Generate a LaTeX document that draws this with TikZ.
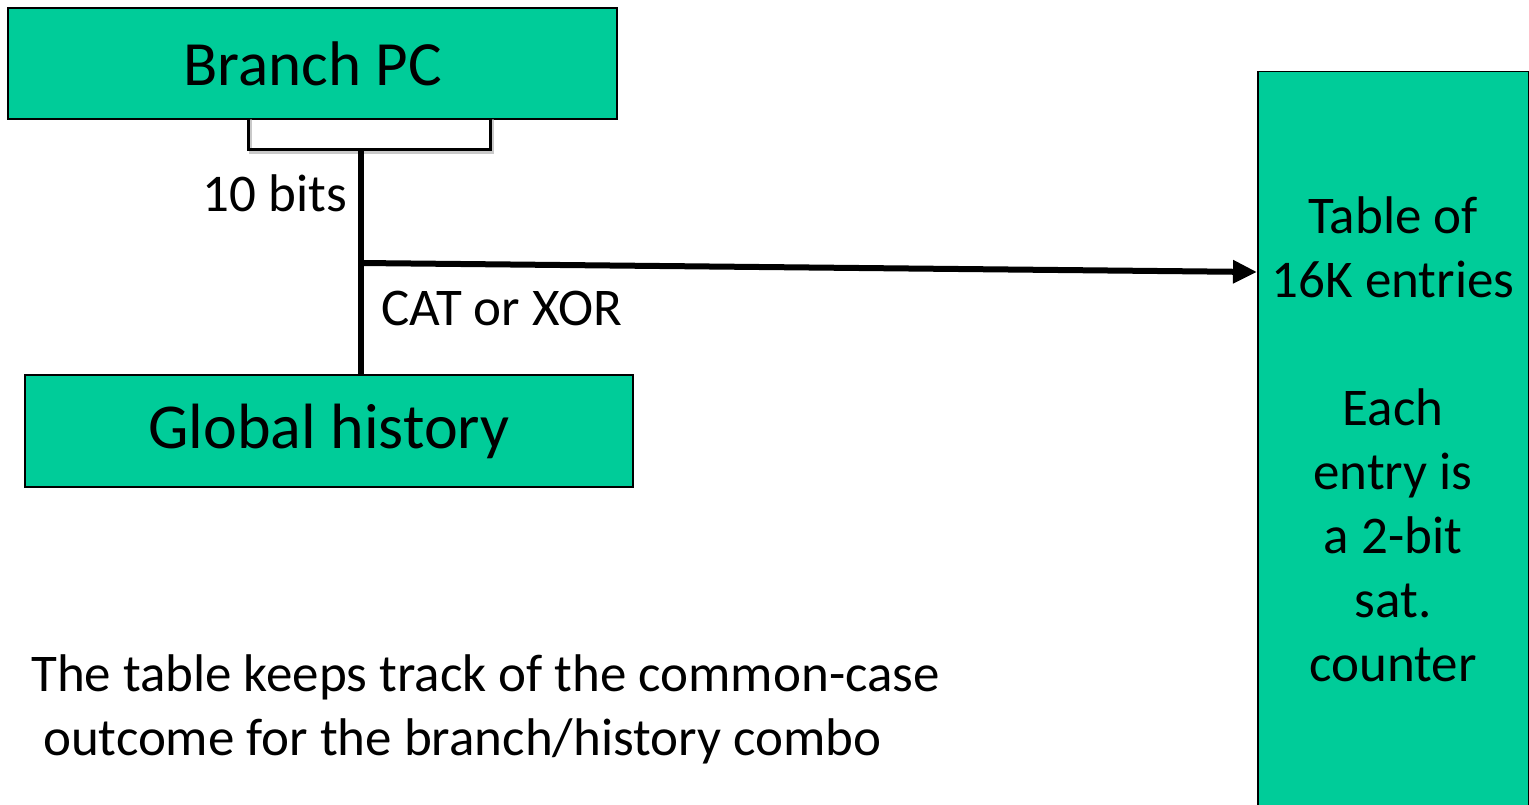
\documentclass[tikz,border=0pt]{standalone}
\usepackage{fontspec}
\setmainfont{Carlito}
\usetikzlibrary{arrows.meta}
\definecolor{boxgreen}{RGB}{0,204,153}
\tikzset{
  greenbox/.style={draw=black, line width=1.5pt, fill=boxgreen, inner sep=0pt},
  wire/.style={line width=6pt},
  lbl/.style={inner sep=0pt, font=\fontsize{53}{64}\selectfont},
}
\begin{document}
\begin{tikzpicture}[x=1pt,y=-1pt]
\useasboundingbox (0,0) rectangle (1529,805);
\fill[white] (0,0) rectangle (1529,805);
% boxes
\node[greenbox, minimum width=609pt, minimum height=111pt, font=\fontsize{63}{70}\selectfont] (pc) at (312.5,63.5) {Branch PC};
\node[greenbox, minimum width=608pt, minimum height=112pt, font=\fontsize{64}{70}\selectfont] (gh) at (329,431) {\raisebox{-5pt}{Global history}};
\begin{scope}
\clip (0,0) rectangle (1529,805);
\node[greenbox, minimum width=271pt, minimum height=760pt, anchor=north west] (tab) at (1257,71) {};
\end{scope}
% table text
\node[lbl, align=center, anchor=base] (tabtext) at (1393,681)
  {Table of\\16K entries\\[64pt]Each\\entry is\\a 2-bit\\sat.\\counter};
% bracket
\coordinate (bl) at (248,119);
\coordinate (br) at (490,119);
\coordinate (bm) at (361,150);
\coordinate (gtop) at (361,375);
\coordinate (join) at (361,263);
\coordinate (tin) at (1257,272);
\draw[line width=3pt, black!35, opacity=0.6] (250,119) -- (250,153) -- (492,153) -- (492,119);
\draw[line width=3pt] (bl) -- (248,150) -- (490,150) -- (br);
\draw[wire] (bm) -- (gtop);
\draw[wire, -{Triangle[length=24pt, width=22pt]}] (join) -- (tin);
% labels
\node[lbl, anchor=base east] (tenbits) at (347,212) {10 bits};
\node[lbl, anchor=base west] (cat) at (381,325) {CAT or XOR};
\node[lbl, anchor=base west] (note1) at (31,691) {The table keeps track of the common-case};
\node[lbl, anchor=base west] (note2) at (31,755) {\ outcome for the branch/history combo};
\end{tikzpicture}
\end{document}
